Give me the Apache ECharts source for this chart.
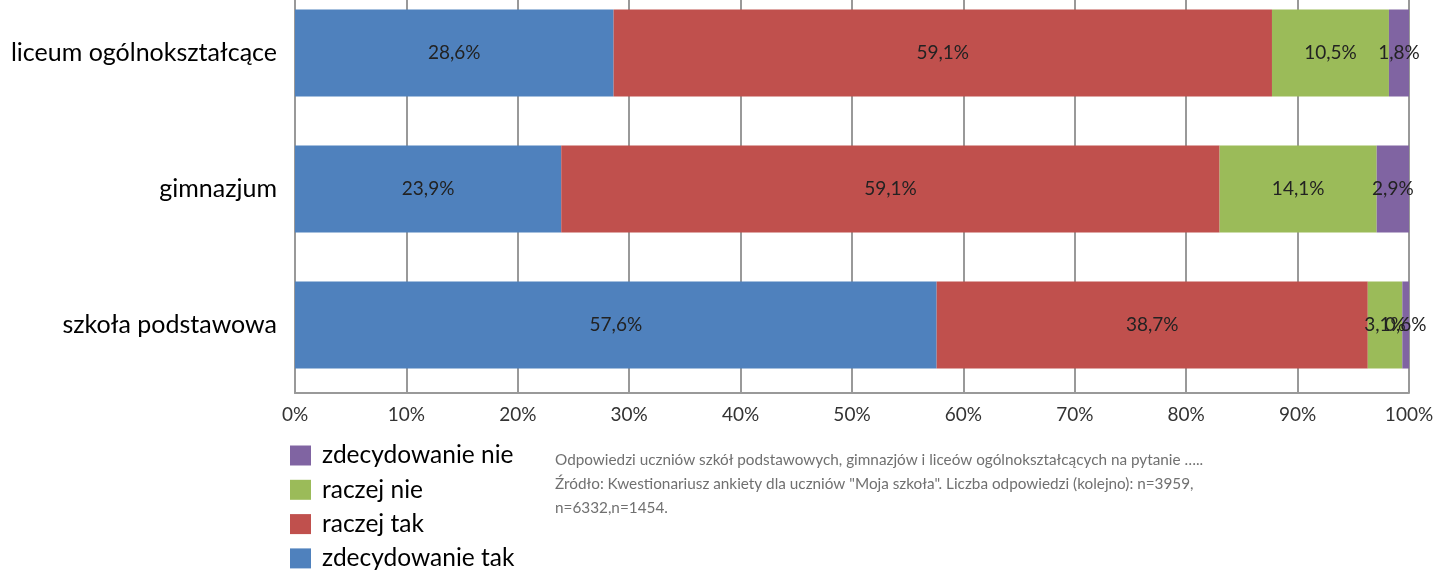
<!DOCTYPE html>
<html>
<head>
<meta charset="utf-8">
<script src="https://cdn.jsdelivr.net/npm/echarts@6/dist/echarts.min.js"></script>
<style>html,body{margin:0;padding:0;background:#fff;}#c{width:1436px;height:571px;}</style>
</head>
<body>
<div id="c"></div>
<script>
const categories = ['liceum ogólnokształcące', 'gimnazjum', 'szkoła podstawowa'];
const seriesNames = ['zdecydowanie tak', 'raczej tak', 'raczej nie', 'zdecydowanie nie'];
const zdecydowanieTak = [28.6, 23.9, 57.6];
const raczejTak = [59.1, 59.1, 38.7];
const raczejNie = [10.5, 14.1, 3.1];
const zdecydowanieNie = [1.8, 2.9, 0.6];
const xTicks = [0, 10, 20, 30, 40, 50, 60, 70, 80, 90, 100];
const colors = ['#4F81BD', '#C0504D', '#9BBB59', '#8064A2'];
const legendOrder = ['zdecydowanie nie', 'raczej nie', 'raczej tak', 'zdecydowanie tak'];
const note = 'Odpowiedzi uczniów szkół podstawowych, gimnazjów i liceów ogólnokształcących na pytanie …..\nŹródło: Kwestionariusz ankiety dla uczniów "Moja szkoła". Liczba odpowiedzi (kolejno): n=3959,\nn=6332,n=1454.';

const values = [zdecydowanieTak, raczejTak, raczejNie, zdecydowanieNie];
const font = 'Lato, Open Sans, sans-serif';
const chart = echarts.init(document.getElementById('c'));
chart.setOption({
  animation: false,
  textStyle: { fontFamily: font },
  grid: { left: 295, right: 27, top: -15, bottom: 178, containLabel: false, outerBoundsMode: 'none' },
  legend: legendOrder.map((name, k) => ({
    orient: 'vertical', left: 290, top: 443 + k * 34.3, padding: 0,
    itemWidth: 21, itemHeight: 20,
    icon: 'rect',
    data: [name],
    textStyle: { fontSize: 24.5, color: '#000', fontFamily: font, padding: [0, 0, 0, 6] }
  })),
  xAxis: {
    type: 'value', min: 0, max: 100, interval: 10,
    axisLine: { show: true, lineStyle: { color: '#999', width: 2 } },
    axisTick: { show: false },
    splitLine: { show: true, lineStyle: { color: '#999', width: 2 } },
    axisLabel: {
      fontSize: 19, color: '#333', margin: 12, fontFamily: font,
      formatter: v => xTicks.includes(v) ? v + '%' : ''
    }
  },
  yAxis: {
    type: 'category', data: categories, inverse: true,
    axisLine: { show: true, lineStyle: { color: '#999', width: 2 } },
    axisTick: { show: false },
    axisLabel: { fontSize: 25, color: '#000', margin: 18, fontFamily: font }
  },
  series: seriesNames.map((n, i) => ({
    name: n, type: 'bar', stack: 'total', data: values[i],
    barCategoryGap: '36%',
    itemStyle: { color: colors[i] },
    label: {
      show: true, position: 'inside', fontSize: 19, color: '#222', fontFamily: font,
      formatter: p => String(p.value).replace('.', ',') + '%'
    }
  })),
  graphic: [{
    type: 'text', left: 555, top: 448,
    style: { text: note, fontSize: 15.3, lineHeight: 24, fill: '#707070', fontFamily: font }
  }]
});
</script>
</body>
</html>
